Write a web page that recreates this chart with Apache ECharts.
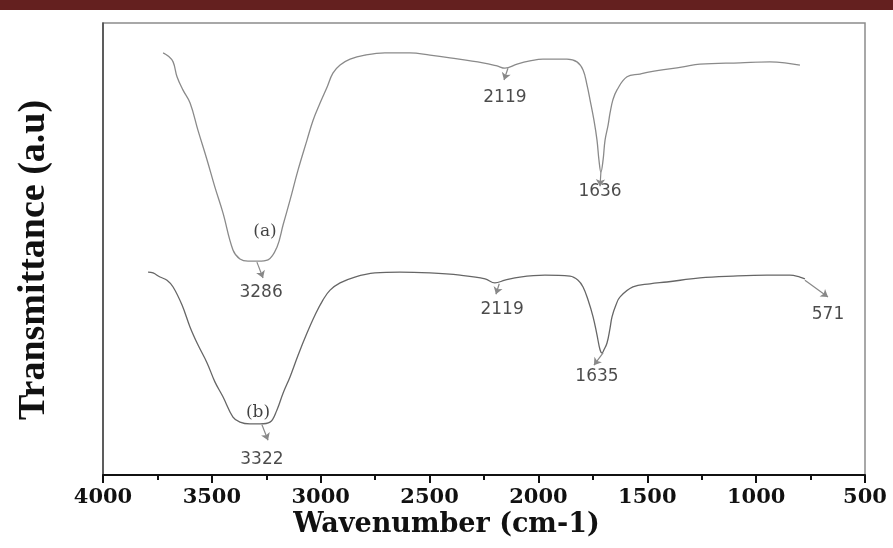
<!DOCTYPE html>
<html><head><meta charset="utf-8">
<script src="https://cdn.jsdelivr.net/npm/echarts@6/dist/echarts.min.js"></script>
<style>html,body{margin:0;padding:0;background:#fff}#c{width:893px;height:548px}</style>
</head><body><div id="c"></div>
<script>
// Wavenumber (cm-1) and transmittance (a.u., arbitrary 0-100 scale)
const waveA = [3724,3701,3678,3660,3633,3600,3564,3522,3486,3449,3403,3371,3334,3288,3242,3201,3173,3141,3104,3063,3035,3003,2971,2944,2911,2865,2797,2705,2590,2498,2406,2255,2190,2154,2098,2039,1979,1869,1823,1795,1777,1763,1745,1731,1722,1713,1703,1694,1680,1671,1658,1639,1593,1534,1488,1336,1258,1074,937,868,799];
const transA = [93.4,92.7,91.4,88.1,85.2,82.3,76.3,69.7,63.7,58.0,49.8,47.8,47.3,47.3,47.6,50.4,55.3,60.8,67.5,74.1,78.5,82.3,85.8,88.9,90.7,92.0,92.9,93.4,93.4,92.9,92.3,91.2,90.5,90.0,90.9,91.6,92.0,92.0,91.4,89.6,86.3,83.0,78.5,74.1,69.7,67.0,69.7,74.1,77.4,80.1,83.0,85.2,88.1,88.7,89.2,90.3,90.9,91.2,91.4,91.2,90.7];
const waveB = [3793,3770,3738,3706,3678,3637,3600,3564,3522,3486,3449,3403,3371,3325,3279,3233,3201,3173,3141,3104,3063,3026,2990,2957,2911,2843,2751,2636,2498,2360,2245,2200,2154,2085,1970,1855,1818,1795,1772,1749,1731,1717,1708,1699,1685,1671,1662,1644,1625,1566,1488,1410,1258,1106,950,845,799,776];
const transB = [44.9,44.7,43.8,43.1,41.6,37.6,32.7,28.8,24.8,20.6,17.3,12.8,11.7,11.3,11.3,11.7,14.4,18.1,21.7,26.5,31.4,35.4,38.7,40.9,42.5,43.8,44.7,44.9,44.7,44.2,43.4,42.5,43.1,43.8,44.2,44.0,43.1,41.6,38.7,35.0,31.0,27.7,27.0,27.7,29.2,32.5,35.0,37.6,39.4,41.6,42.3,42.7,43.6,44.0,44.2,44.2,43.8,43.4];
const xTicks = [500,1000,1500,2000,2500,3000,3500,4000];
// Peak annotations: [wavenumber, transmittance, text]
const peakLabels = [[2154,83.4,'2119'],[1717,62.6,'1636'],[3274,40.3,'3286'],[3270,3.5,'3322'],[2167,36.5,'2119'],[1731,21.7,'1635'],[670,35.4,'571']];
const curveLabels = [[3256,53.8,'(a)'],[3288,13.7,'(b)']];
// Arrows: [fromWave, fromT, toWave, toT]
const arrows = [[2140,90.0,2158,87.4],[1713,67.0,1717,63.9],[3293,47.1,3265,43.6],[3270,11.1,3242,7.7],[2180,42.3,2195,40.0],[1703,27.0,1745,24.3],[776,43.1,670,39.4]];

const chart = echarts.init(document.getElementById('c'));
const zip = (a,b)=>a.map((v,i)=>[v,b[i]]);
chart.setOption({
  animation:false,
  backgroundColor:'#fff',
  grid:{left:103,right:28,top:23,bottom:73,show:true,borderColor:'#8c8c8c',borderWidth:1.5},
  graphic:[
    {type:'rect',left:0,top:0,shape:{width:893,height:10},style:{fill:'#64201F'}},
    {type:'text',left:'center',top:511,style:{text:'Wavenumber (cm-1)',font:'bold 27px "DejaVu Serif"',fill:'#111'},x:14},
    {type:'text',x:15,y:420,rotation:Math.PI/2,style:{text:'Transmittance (a.u)',font:'bold 38px "Liberation Serif"',fill:'#111'}}
  ],
  xAxis:{type:'value',inverse:true,min:500,max:4000,interval:500,
    axisLine:{show:true,lineStyle:{color:'#111',width:2}},
    axisTick:{show:true,length:8,lineStyle:{color:'#111',width:2}},
    minorTick:{show:true,splitNumber:2,length:5,lineStyle:{color:'#111',width:2}},
    splitLine:{show:false},
    axisLabel:{margin:12,color:'#111',fontFamily:'DejaVu Serif',fontWeight:'bold',fontSize:21,
      formatter:v=>xTicks.includes(v)?String(v):''}
  },
  yAxis:{type:'value',min:0,max:100,axisLabel:{show:false},axisTick:{show:false},splitLine:{show:false},
    axisLine:{show:true,lineStyle:{color:'#444',width:1.5}}},
  series:[
    {type:'line',data:zip(waveA,transA),showSymbol:false,smooth:0.4,lineStyle:{color:'#8a8a8a',width:1.3}},
    {type:'line',data:zip(waveB,transB),showSymbol:false,smooth:0.4,lineStyle:{color:'#666',width:1.3}},
    {type:'scatter',data:peakLabels,symbolSize:0,
      label:{show:true,position:'inside',formatter:p=>p.data[2],fontFamily:'DejaVu Sans',fontSize:17,color:'#1e1e1e'}},
    {type:'scatter',data:curveLabels,symbolSize:0,
      label:{show:true,position:'inside',formatter:p=>p.data[2],fontFamily:'DejaVu Serif',fontSize:17,color:'#111'}},
    {type:'line',data:[],markLine:{silent:true,symbol:['none','arrow'],symbolSize:7,label:{show:false},
      lineStyle:{color:'#888',width:1.2,type:'solid'},
      data:arrows.map(a=>[{coord:[a[0],a[1]]},{coord:[a[2],a[3]]}])}}
  ]
});
</script></body></html>
